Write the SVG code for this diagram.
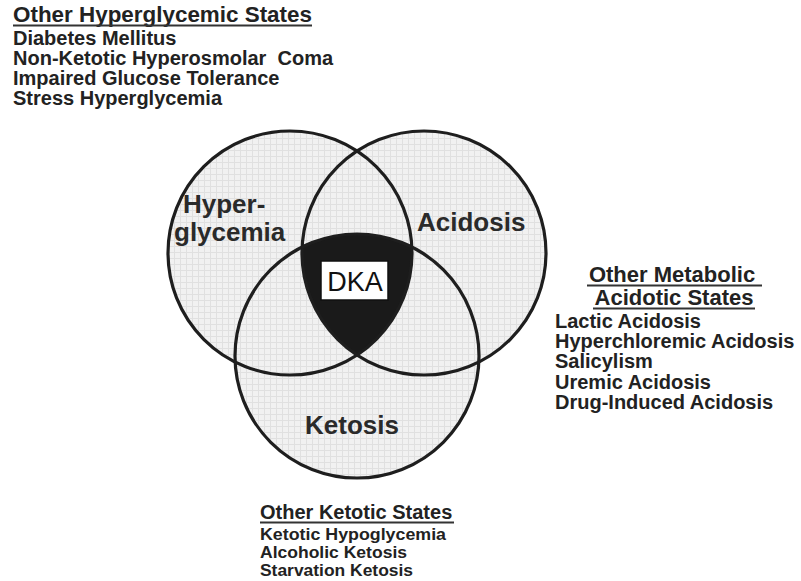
<svg xmlns="http://www.w3.org/2000/svg" width="801" height="581" viewBox="0 0 801 581">
  <style>
    .txt { font-family: "Liberation Sans", Arial, Helvetica, sans-serif; font-weight: bold; fill: #222; }
    .hdr { font-size: 22px; }
    .item { font-size: 20px; }
    .small { font-size: 17px; }
    .circ-label { font-family: "Liberation Sans", Arial, Helvetica, sans-serif; font-weight: bold; font-size: 26px; fill: #2a2a2a; }
    .ring { fill: none; stroke: #1e1e1e; stroke-width: 3.2; }
    .fill { fill: url(#grid); stroke: none; }
    .uline { stroke: #333; stroke-width: 1.8; }
  </style>
  <defs>
    <pattern id="grid" width="6" height="6" patternUnits="userSpaceOnUse">
      <rect width="6" height="6" fill="#f1f1f1"/>
      <path d="M0 0.5 H6 M0.5 0 V6" stroke="#e0e0e0" stroke-width="1"/>
    </pattern>
    <clipPath id="clipH"><circle cx="290" cy="253" r="122"/></clipPath>
    <clipPath id="clipA"><circle cx="424" cy="253" r="122"/></clipPath>
  </defs>
  <rect width="801" height="581" fill="#ffffff"/>

  <!-- circle fills -->
  <g id="fills">
    <circle class="fill" cx="290" cy="253" r="122"/>
    <circle class="fill" cx="424" cy="253" r="122"/>
    <circle class="fill" cx="357" cy="356" r="122"/>
  </g>

  <!-- DKA intersection region -->
  <g id="dka-region" clip-path="url(#clipH)">
    <g clip-path="url(#clipA)">
      <circle cx="357" cy="356" r="122" fill="#1a1a1a"/>
    </g>
  </g>

  <g id="hyperglycemia">
    <circle class="ring" cx="290" cy="253" r="122"/>
    <text class="circ-label" x="183" y="213">Hyper-</text>
    <text class="circ-label" x="174" y="241">glycemia</text>
  </g>
  <g id="acidosis">
    <circle class="ring" cx="424" cy="253" r="122"/>
    <text class="circ-label" x="417" y="231">Acidosis</text>
  </g>
  <g id="ketosis">
    <circle class="ring" cx="357" cy="356" r="122"/>
    <text class="circ-label" x="305" y="434">Ketosis</text>
  </g>

  <g id="dka">
    <rect x="321" y="261" width="67" height="39" fill="#ffffff" stroke="#111" stroke-width="1.5"/>
    <text x="355" y="291" text-anchor="middle" font-family="Liberation Sans, Arial, sans-serif" font-size="27" fill="#111">DKA</text>
  </g>

  <g id="other-hyperglycemic">
    <text class="txt hdr" x="13" y="22" textLength="299" lengthAdjust="spacingAndGlyphs">Other Hyperglycemic States</text>
    <line class="uline" x1="13" y1="25.5" x2="312" y2="25.5"/>
    <text class="txt item" x="13" y="45">Diabetes Mellitus</text>
    <text class="txt item" x="13" y="65" xml:space="preserve">Non-Ketotic Hyperosmolar  Coma</text>
    <text class="txt item" x="13" y="85">Impaired Glucose Tolerance</text>
    <text class="txt item" x="13" y="105">Stress Hyperglycemia</text>
  </g>

  <g id="other-acidotic">
    <text class="txt hdr" x="672" y="282" text-anchor="middle">Other Metabolic</text>
    <line class="uline" x1="587" y1="285.5" x2="762" y2="285.5"/>
    <text class="txt hdr" x="674" y="305" text-anchor="middle">Acidotic States</text>
    <line class="uline" x1="593" y1="308.5" x2="755" y2="308.5"/>
    <text class="txt item" x="555" y="328">Lactic Acidosis</text>
    <text class="txt item" x="555" y="348">Hyperchloremic Acidosis</text>
    <text class="txt item" x="555" y="368">Salicylism</text>
    <text class="txt item" x="555" y="389">Uremic Acidosis</text>
    <text class="txt item" x="555" y="409">Drug-Induced Acidosis</text>
  </g>

  <g id="other-ketotic">
    <text class="txt item" x="260" y="519">Other Ketotic States</text>
    <line class="uline" x1="260" y1="522.5" x2="454" y2="522.5"/>
    <text class="txt small" x="260" y="540" textLength="186" lengthAdjust="spacingAndGlyphs">Ketotic Hypoglycemia</text>
    <text class="txt small" x="260" y="558" textLength="147" lengthAdjust="spacingAndGlyphs">Alcoholic Ketosis</text>
    <text class="txt small" x="260" y="576" textLength="153" lengthAdjust="spacingAndGlyphs">Starvation Ketosis</text>
  </g>
</svg>
